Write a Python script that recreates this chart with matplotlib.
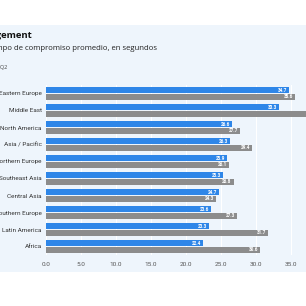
import matplotlib.pyplot as plt
import numpy as np

categories = ["Eastern Europe", "Middle East", "North America", "Asia / Pacific",
              "Northern Europe", "Southeast Asia", "Central Asia", "Southern Europe",
              "Latin America", "Africa"]
series_blue = [34.7, 33.3, 26.6, 26.3, 25.9, 25.3, 24.7, 23.6, 23.3, 22.4]
series_gray = [35.6, 39.5, 27.7, 29.4, 26.1, 26.8, 24.3, 27.3, 31.7, 30.6]
xticks = [0, 5, 10, 15, 20, 25, 30, 35]

NARROW = ["Liberation Sans Narrow", "Roboto", "DejaVu Sans"]
W = 306
fig = plt.figure(figsize=(3.06, 3.06), dpi=100)
fig.patch.set_facecolor("white")

panel = fig.add_axes([0, 1 - 272 / W, 1, (272 - 25) / W])
panel.set_facecolor("#eef5fc")
panel.set_xticks([]); panel.set_yticks([])
for s in panel.spines.values():
    s.set_visible(False)
panel.set_zorder(0)

ax = fig.add_axes([46 / W, 1 - 255 / W, 1 - 46 / W, 170 / W])
ax.set_zorder(1)
ax.set_facecolor("none")
y = np.arange(len(categories))
h = 0.36
ax.barh(y - 0.2, series_blue, height=h, color="#2e86e8", zorder=3)
ax.barh(y + 0.2, series_gray, height=h, color="#8c8c8c", zorder=3)
for yi, v in zip(y, series_blue):
    ax.text(v - 0.3, yi - 0.2, f"{v:.1f}", ha="right", va="center", color="white",
            fontsize=3.3, fontweight="bold", zorder=4, family=NARROW)
for yi, v in zip(y, series_gray):
    ax.text(v - 0.3, yi + 0.2, f"{v:.1f}", ha="right", va="center", color="white",
            fontsize=3.3, fontweight="bold", zorder=4, clip_on=True, family=NARROW)

ax.set_xlim(0, (W - 46) / 7)
ax.set_ylim(len(categories) - 0.5, -0.5)
ax.set_yticks(y)
ax.set_yticklabels(categories, fontsize=4.6, color="#333333", family=NARROW)
ax.set_xticks(xticks)
ax.set_xticklabels([f"{t:.1f}" for t in xticks], fontsize=4.6, color="#555555",
                   family=NARROW)
ax.tick_params(length=0, pad=3)
ax.tick_params(axis="x", pad=5)
ax.grid(axis="x", color="#ffffff", linewidth=0.8, zorder=0)
for s in ax.spines.values():
    s.set_visible(False)

fig.text(32 / W, 1 - 36 / W, "Engagement", ha="right", va="center",
         fontsize=6.8, fontweight="bold", color="#111111", family="Open Sans")
fig.text(157 / W, 1 - 49 / W, "Tiempo de compromiso promedio, en segundos",
         ha="right", va="center", fontsize=5.6, color="#222222", family="Open Sans")
fig.text(7 / W, 1 - 68 / W, "2022 Q2", ha="right", va="center",
         fontsize=4.0, color="#444444", family="Open Sans")

fig.savefig("out.png", dpi=100)
